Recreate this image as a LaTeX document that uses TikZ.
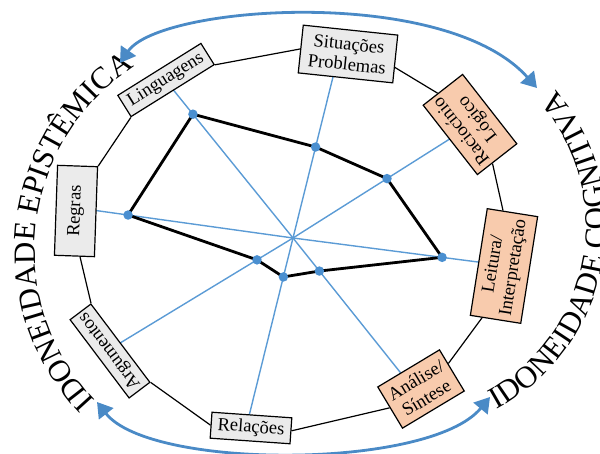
\documentclass[tikz,border=0pt]{standalone}
\usepackage{fontspec}
\setmainfont{Liberation Serif}
\usetikzlibrary{arrows.meta,decorations.text,calc}
\definecolor{spoke}{HTML}{5B9BD5}
\definecolor{dotc}{HTML}{4A8FD0}
\definecolor{arrc}{HTML}{4A8AC6}
\definecolor{grayfill}{HTML}{EBEBEB}
\definecolor{orangefill}{HTML}{F8CBAD}
\newcommand\arcfont{\fontsize{31}{36}\selectfont}
\newcommand\boxfont{\fontsize{18.5}{20.5}\selectfont}
\begin{document}
\begin{tikzpicture}[x=1pt,y=-1pt,
  spokeline/.style={spoke, line width=1.4pt},
  ringline/.style={black, line width=1.2pt},
  dataline/.style={black, line width=2.8pt, line join=round},
  datadot/.style={circle, fill=dotc, inner sep=0pt, minimum size=9.5pt},
  item/.style={draw=black, line width=1.2pt, fill=grayfill, font=\boxfont, align=center, inner sep=1pt},
  itemo/.style={item, fill=orangefill},
  bigarrow/.style={arrc, line width=2.8pt},
  headtip/.tip={Triangle[width=18pt,length=15pt]},
  arctext/.style={decorate, decoration={text along path, text align=left}}
]
\useasboundingbox (0,0) rectangle (600,454);

% centre and hidden spoke ends
\coordinate (c) at (293,238);
\coordinate (eLing) at (168.7,84.2);
\coordinate (eSit) at (335.4,67.3);
\coordinate (eRac) at (456.5,134.7);
\coordinate (eLei) at (487.9,263.3);
\coordinate (eAna) at (406.2,379.8);
\coordinate (eRel) at (247.6,421.7);
\coordinate (eArg) at (116.5,345.2);
\coordinate (eReg) at (82.1,208.6);

\foreach \e in {eLing,eSit,eRac,eLei,eAna,eRel,eArg,eReg}
  \draw[spokeline] (c) -- (\e);

% data points
\coordinate (p1) at ($(c)!0.805!(eLing)$);
\coordinate (p2) at ($(c)!0.533!(eSit)$);
\coordinate (p3) at ($(c)!0.575!(eRac)$);
\coordinate (p4) at ($(c)!0.765!(eLei)$);
\coordinate (p5) at ($(c)!0.233!(eAna)$);
\coordinate (p6) at ($(c)!0.212!(eRel)$);
\coordinate (p7) at ($(c)!0.204!(eArg)$);
\coordinate (p8) at ($(c)!0.782!(eReg)$);
\draw[dataline] (p1) -- (p2) -- (p3) -- (p4) -- (p5) -- (p6) -- (p7) -- (p8) -- cycle;
\foreach \i in {1,...,8}
  \node[datadot] (d\i) at (p\i) {};

% boxes
\node[item, rotate=-6, minimum width=95pt, minimum height=48pt] (sit) at (348,54) {Situações\\Problemas};
\node[itemo, rotate=128, minimum width=88pt, minimum height=50pt] (rac) at (470,124.5) {Raciocínio\\Lógico};
\node[itemo, rotate=81, minimum width=108pt, minimum height=51pt] (lei) at (504,266) {Leitura/\\Interpretação};
\node[itemo, rotate=31, minimum width=72pt, minimum height=48pt] (ana) at (421,389) {Análise/\\Síntese};
\node[item, rotate=-4, minimum width=80pt, minimum height=26pt] (rel) at (251,428) {Relações};
\node[item, rotate=127, minimum width=98pt, minimum height=26pt] (arg) at (110,351) {Argumentos};
\node[item, rotate=88, minimum width=90pt, minimum height=40pt] (reg) at (76,211) {Regras};
\node[item, rotate=32, minimum width=98pt, minimum height=25pt] (ling) at (166,80) {Linguagens};

% ring
\draw[ringline] (ling.south east) -- (sit.west);
\draw[ringline] (sit.-10) -- (rac.8);
\draw[ringline] (rac.172) -- (lei.10);
\draw[ringline] (lei.166) -- (ana.12);
\draw[ringline] (ana.west) -- (rel.east);
\draw[ringline] (rel.west) -- (arg.south west);
\draw[ringline] (arg.south east) -- (reg.187);
\draw[ringline] (reg.south east) -- (ling.south west);

% curved texts
\path[arctext, decoration={text={|\arcfont|IDONEIDADE EPISTÊMICA}}]
  (95.1,400.3) arc[start angle=-223.6, end angle=-110, radius=218];
\path[arctext, decoration={text={|\arcfont|IDONEIDADE COGNITIVA}}]
  (496.8,409.7) arc[start angle=61.5, end angle=-55, radius=209];

% big arrows
\coordinate (tl) at (120,63);
\coordinate (tr) at (537,88);
\coordinate (bl) at (97,402);
\coordinate (br) at (490,397);
\draw[bigarrow, headtip-headtip] (tl) .. controls (160,5) and (445,-15) .. (tr);
\draw[bigarrow, headtip-headtip] (bl) .. controls (150,470) and (430,470) .. (br);
\end{tikzpicture}
\end{document}
